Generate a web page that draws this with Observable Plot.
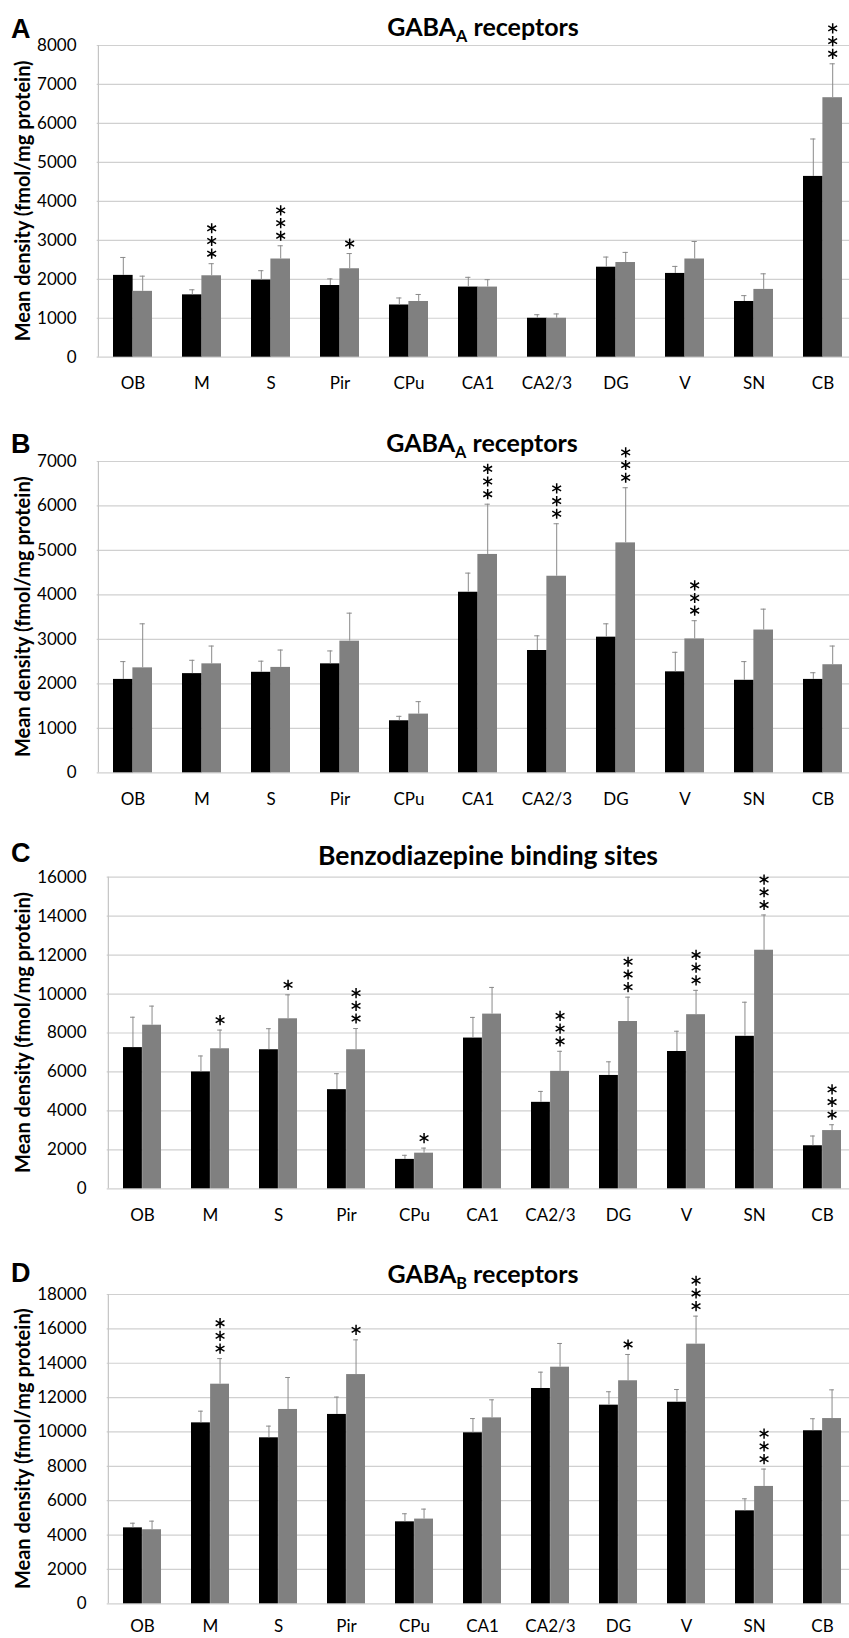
<!DOCTYPE html>
<html><head><meta charset="utf-8">
<script src="https://cdn.jsdelivr.net/npm/d3@7"></script>
<script src="https://cdn.jsdelivr.net/npm/@observablehq/plot@0.6"></script>
<style>
html,body{margin:0;padding:0;background:#fff;overflow:hidden;}
#root{position:relative;width:849px;height:1638px;overflow:hidden;background:#fff;}
#root svg{position:absolute;left:0;}
</style></head><body><div id="root"></div>
<script>
const categories = ["OB","M","S","Pir","CPu","CA1","CA2/3","DG","V","SN","CB"];
const yLabel = "Mean density (fmol/mg protein)";

// Panel A – GABA_A receptors
const aTitle = [["GABA", false], ["A", true], [" receptors", false]];
const aTicks = [0,1000,2000,3000,4000,5000,6000,7000,8000];
const aBlack   = [2100,1600,1980,1840,1340,1800,1000,2310,2150,1430,4640];
const aBlackSD = [ 460, 130, 240, 170, 180, 250,  90, 260, 180, 150, 960];
const aGray    = [1690,2090,2520,2270,1430,1800,1000,2430,2520,1740,6660];
const aGraySD  = [ 390, 310, 340, 390, 180, 190, 110, 260, 450, 400, 870];
const aStars   = [0,3,3,1,0,0,0,0,0,0,3];

// Panel B – GABA_A receptors
const bTitle = [["GABA", false], ["A", true], [" receptors", false]];
const bTicks = [0,1000,2000,3000,4000,5000,6000,7000];
const bBlack   = [2100,2230,2260,2450,1170,4060,2750,3050,2270,2080,2100];
const bBlackSD = [ 400, 300, 250, 290, 100, 430, 330, 300, 440, 420, 150];
const bGray    = [2360,2450,2370,2960,1320,4910,4420,5170,3010,3210,2430];
const bGraySD  = [ 990, 400, 390, 630, 280,1130,1180,1240, 410, 470, 420];
const bStars   = [0,0,0,0,0,3,3,3,3,0,0];

// Panel C – Benzodiazepine binding sites
const cTitle = [["Benzodiazepine binding sites", false]];
const cTicks = [0,2000,4000,6000,8000,10000,12000,14000,16000];
const cBlack   = [7250,6000,7140,5090,1510,7740,4440,5820,7050,7830,2210];
const cBlackSD = [1560, 820,1080, 820, 210,1060, 560, 700,1040,1750, 500];
const cGray    = [8400,7190,8730,7140,1830,8970,6030,8590,8940,12250,2990];
const cGraySD  = [ 980, 960,1230,1090, 260,1370,1030,1250,1250,1810, 300];
const cStars   = [0,1,1,3,1,0,3,3,3,3,3];

// Panel D – GABA_B receptors
const dTitle = [["GABA", false], ["B", true], [" receptors", false]];
const dTicks = [0,2000,4000,6000,8000,10000,12000,14000,16000,18000];
const dBlack   = [4420,10530,9660,11020,4770,9950,12530,11560,11730,5410,10070];
const dBlackSD = [ 270,  680, 680, 1010, 470, 830,  950,  780,  740, 700,  700];
const dGray    = [4310,12780,11310,13340,4930,10820,13770,12980,15110,6830,10780];
const dGraySD  = [ 500, 1490, 1860, 2020, 580, 1050, 1380, 1530, 1630,1010, 1670];
const dStars   = [0,3,0,1,0,0,0,1,3,3,0];

const panels = [
  {letter:"A", title:aTitle, ticks:aTicks, black:aBlack, blackSD:aBlackSD, gray:aGray, graySD:aGraySD, stars:aStars,
   top:0, height:397, plotTop:45, plotBottom:356.7, left:96.7, letterBase:38, titleBase:36, titleX:483, titleSize:25, xPad:20},
  {letter:"B", title:bTitle, ticks:bTicks, black:bBlack, blackSD:bBlackSD, gray:bGray, graySD:bGraySD, stars:bStars,
   top:400, height:412, plotTop:461, plotBottom:772.3, left:96.7, letterBase:453, titleBase:452, titleX:482, titleSize:25, xPad:20},
  {letter:"C", title:cTitle, ticks:cTicks, black:cBlack, blackSD:cBlackSD, gray:cGray, graySD:cGraySD, stars:cStars,
   top:815, height:413, plotTop:876.7, plotBottom:1188.3, left:106.7, letterBase:862, titleBase:865, titleX:488, titleSize:26.5, xPad:20},
  {letter:"D", title:dTitle, ticks:dTicks, black:dBlack, blackSD:dBlackSD, gray:dGray, graySD:dGraySD, stars:dStars,
   top:1230, height:408, plotTop:1294, plotBottom:1603.3, left:106.7, letterBase:1282, titleBase:1283, titleX:483, titleSize:25, xPad:16}
];

const root = document.getElementById("root");
const W = 849, plotRight = 858;
const padIn = 0.44;

function makePanel(cfg) {
  const H = cfg.height;
  const mT = cfg.plotTop - cfg.top;
  const mB = H - (cfg.plotBottom - cfg.top);
  const mL = cfg.left, mR = W - plotRight;
  const step = (plotRight - mL) / categories.length;
  const bw = step * (1 - padIn);
  const half = bw / 2, q = bw / 4, cap = 5;
  const rows = categories.map((c, i) => ({
    c, b: cfg.black[i], bt: cfg.black[i] + cfg.blackSD[i],
    g: cfg.gray[i], gt: cfg.gray[i] + cfg.graySD[i], s: cfg.stars[i]
  }));
  const yMax = cfg.ticks[cfg.ticks.length - 1];
  const starMarks = [0, 1, 2].map(k => Plot.dot(rows.filter(r => r.s > k), {
    x: "c", y: "gt", dx: q, dy: -(10 + 12.7 * k), symbol: "asterisk", r: 4.8,
    stroke: "#000", strokeWidth: 1.5
  }));
  const svg = Plot.plot({
    width: W, height: H, marginLeft: mL, marginRight: mR, marginTop: mT, marginBottom: mB,
    style: {fontFamily: "Lato, sans-serif", fontSize: "17px", color: "#000", background: "transparent", overflow: "visible"},
    x: {domain: categories, paddingInner: padIn, paddingOuter: padIn / 2, label: null, tickSize: 0, tickPadding: cfg.xPad},
    y: {domain: [0, yMax], ticks: cfg.ticks, tickFormat: d3.format("d"), label: null, tickSize: 0, tickPadding: 20.7},
    marks: [
      Plot.ruleY(cfg.ticks, {stroke: "#d0d0d0", strokeWidth: 1.2}),
      Plot.ruleX([categories[0]], {dx: -step / 2, stroke: "#c4c4c4", strokeWidth: 1.2}),
      Plot.barY(rows, {x: "c", y: "b", fill: "#000", insetRight: half}),
      Plot.barY(rows, {x: "c", y: "g", fill: "#808080", insetLeft: half}),
      Plot.ruleX(rows, {x: "c", y1: "b", y2: "bt", dx: -q, stroke: "#8a8a8a", strokeWidth: 1}),
      Plot.ruleX(rows, {x: "c", y1: "g", y2: "gt", dx: q, stroke: "#8a8a8a", strokeWidth: 1}),
      Plot.tickY(rows, {x: "c", y: "bt", dx: -q, insetLeft: (bw - cap) / 2, insetRight: (bw - cap) / 2, stroke: "#8a8a8a"}),
      Plot.tickY(rows, {x: "c", y: "gt", dx: q, insetLeft: (bw - cap) / 2, insetRight: (bw - cap) / 2, stroke: "#8a8a8a"}),
      ...starMarks
    ]
  });
  svg.style.top = cfg.top + "px";
  const s = d3.select(svg);
  // panel letter
  s.append("text").attr("x", 11).attr("y", cfg.letterBase - cfg.top).attr("text-anchor", "start")
    .attr("font-family", "'Liberation Sans', Arial, sans-serif").attr("font-weight", "bold").attr("font-size", 27)
    .attr("fill", "#000").text(cfg.letter);
  // title with subscript
  const t = s.append("text").attr("x", cfg.titleX).attr("y", cfg.titleBase - cfg.top)
    .attr("text-anchor", "middle").attr("font-family", "Lato, sans-serif").attr("font-weight", "bold")
    .attr("font-size", cfg.titleSize).attr("fill", "#000");
  let shifted = false;
  cfg.title.forEach(([txt, sub]) => {
    const sp = t.append("tspan").text(txt);
    if (sub) { sp.attr("font-size", cfg.titleSize * 0.65).attr("dy", 6); shifted = true; }
    else if (shifted) { sp.attr("dy", -6); shifted = false; }
  });
  // y-axis label
  s.append("text")
    .attr("transform", `translate(29.5,${(cfg.plotTop + cfg.plotBottom) / 2 - cfg.top}) rotate(-90)`)
    .attr("text-anchor", "middle").attr("font-family", "Lato, sans-serif").attr("font-weight", "bold")
    .attr("font-size", 20).attr("fill", "#000").text(yLabel);
  root.appendChild(svg);
}
panels.forEach(makePanel);
</script>
</body></html>
